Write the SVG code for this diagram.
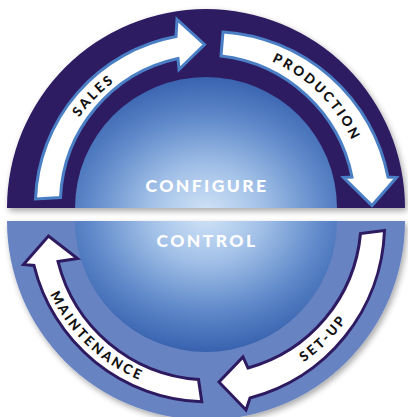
<svg xmlns="http://www.w3.org/2000/svg" width="408" height="417" viewBox="0 0 408 417">
  <defs>
    <style>
      .lbl { font-family: Lato, "Open Sans", "DejaVu Sans", sans-serif; font-weight: 900; font-size: 13.5px; letter-spacing: 2.6px; fill: #111; }
      .title { font-family: Lato, "Open Sans", "DejaVu Sans", sans-serif; font-weight: 900; font-size: 17.5px; letter-spacing: 2.4px; fill: #ffffff; text-anchor: middle; }
      .arrowTop { fill: #ffffff; stroke: #4b7fc5; stroke-width: 3; stroke-linejoin: miter; }
      .arrowBot { fill: #ffffff; stroke: #2e1a60; stroke-width: 3; stroke-linejoin: miter; }
    </style>
    <radialGradient id="sphere" gradientUnits="userSpaceOnUse" cx="206" cy="214" r="140" gradientTransform="translate(206,214) scale(1.2,1) translate(-206,-214)">
      <stop offset="0" stop-color="#d2e4f7"/>
      <stop offset="0.35" stop-color="#a0bfe7"/>
      <stop offset="0.7" stop-color="#5e88c9"/>
      <stop offset="1" stop-color="#3660ad"/>
    </radialGradient>
    <filter id="shadow" x="-10%" y="-10%" width="120%" height="125%">
      <feGaussianBlur in="SourceAlpha" stdDeviation="3"/>
      <feOffset dx="2" dy="3" result="b"/>
      <feComponentTransfer><feFuncA type="linear" slope="0.35"/></feComponentTransfer>
      <feMerge><feMergeNode/><feMergeNode in="SourceGraphic"/></feMerge>
    </filter>
    <path id="tp-sales" d="M50.79,194.42 A155.8,155.8 0 0 1 192.42,52.79"/>
    <path id="tp-production" d="M220.02,47.81 A160.8,160.8 0 0 1 366.19,193.98"/>
    <path id="tp-setup" d="M220.96,392.05 A171.7,171.7 0 0 0 377.05,235.96"/>
    <path id="tp-maintenance" d="M34.91,240.49 A172.2,172.2 0 0 0 195.49,392.88"/>
  </defs>

  <rect x="0" y="0" width="408" height="417" fill="#ffffff"/>

  <g id="configure">
    <path d="M7,208 A199,199 0 0 1 405,208 Z" fill="#2f1b62" filter="url(#shadow)"/>
    <path d="M75,208 A131,131 0 0 1 337,208 Z" fill="url(#sphere)"/>
    <text class="title" x="207" y="192">CONFIGURE</text>
  </g>

  <g id="control">
    <path d="M7,221 A199,199 0 0 0 405,221 Z" fill="#6883c2" filter="url(#shadow)"/>
    <path d="M75,221 A131,131 0 0 0 337,221 Z" fill="url(#sphere)"/>
    <text class="title" x="207" y="247">CONTROL</text>
  </g>

  <g id="connectors">
    <g id="sales">
      <path class="arrowTop" d="M35.5,199 A172,172 0 0 1 176,36.5 L177,19.5 L204.5,44.5 L179,69.5 L178,58.5 A149,149 0 0 0 60.5,197.5 Z"/>
      <text class="lbl"><textPath href="#tp-sales" startOffset="50%" text-anchor="middle">SALES</textPath></text>
    </g>
    <g id="production">
      <path class="arrowTop" d="M223,32 A180,180 0 0 1 388,177 L396.5,177.5 L372,205.5 L343.5,177.5 L352,177 A151,151 0 0 0 221,56 Z"/>
      <text class="lbl"><textPath href="#tp-production" startOffset="50%" text-anchor="middle">PRODUCTION</textPath></text>
    </g>
    <g id="setup">
      <path class="arrowBot" d="M384.5,230.5 A180,180 0 0 1 250,398 L246,410 L219,382 L243,357 L248,368 A154,154 0 0 0 360.5,233.5 Z"/>
      <text class="lbl"><textPath href="#tp-setup" startOffset="50%" text-anchor="middle">SET-UP</textPath></text>
    </g>
    <g id="maintenance">
      <path class="arrowBot" d="M201.8,401.8 A179,179 0 0 1 34,265.5 L23.5,264.5 L48.5,236 L77.5,258.5 L58,261.5 A156,156 0 0 0 198.5,379.5 Z"/>
      <text class="lbl"><textPath href="#tp-maintenance" startOffset="50%" text-anchor="middle">MAINTENANCE</textPath></text>
    </g>
  </g>
</svg>
